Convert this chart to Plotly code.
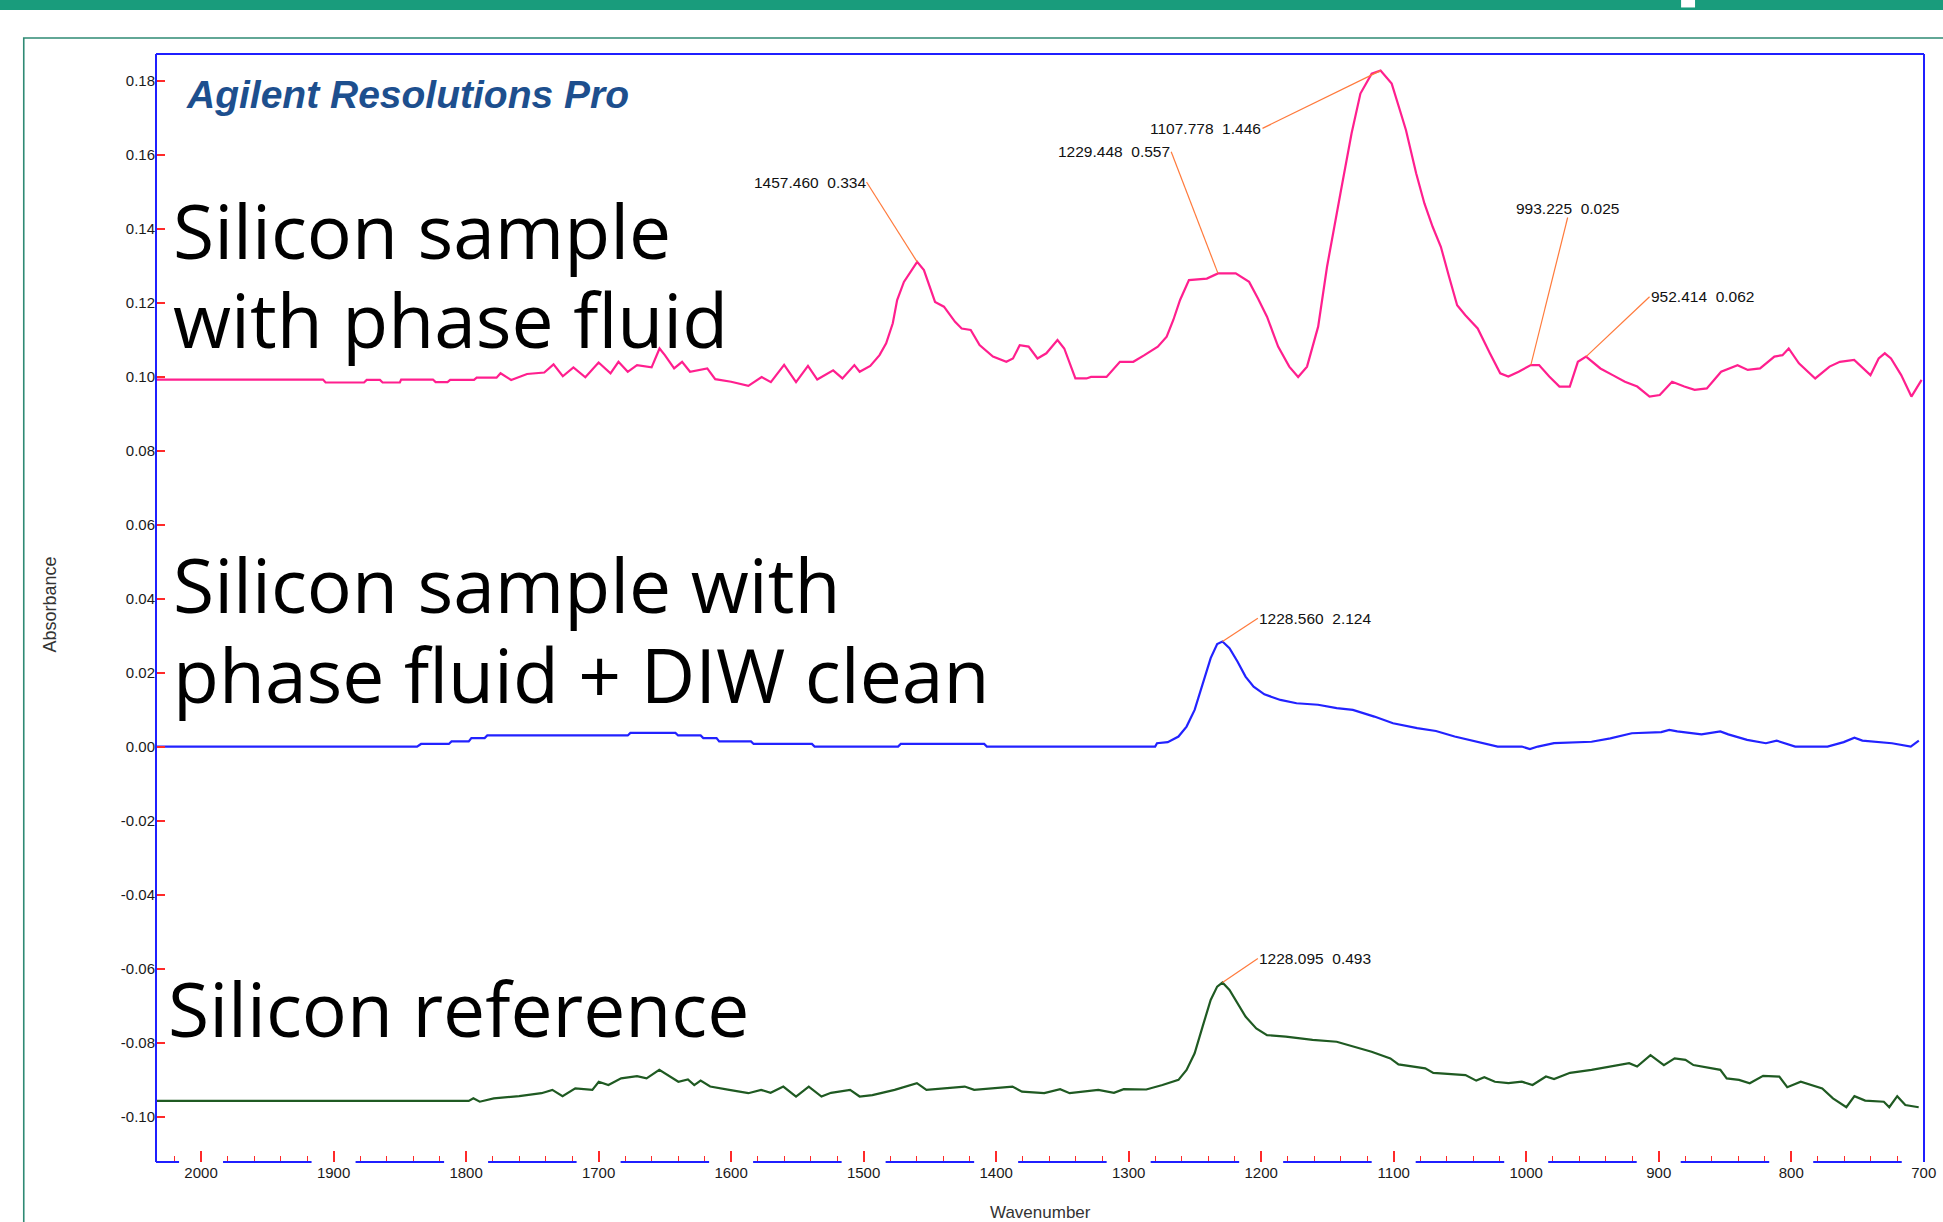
import plotly.graph_objects as go

# ---------------- data ----------------
pink_wn = [2034, 1908, 1906, 1877, 1875, 1865, 1863, 1850, 1849, 1825, 1823, 1814, 1812, 1794,
           1792, 1777, 1774, 1766, 1754, 1741, 1734, 1727, 1719, 1710, 1700, 1691, 1685, 1678,
           1671, 1660, 1654, 1650, 1643, 1637, 1631, 1618, 1612, 1600, 1587, 1577, 1570, 1560,
           1551, 1542, 1535, 1523, 1516, 1507, 1503, 1495, 1488, 1483, 1478, 1474.7, 1469.6,
           1459.6, 1454.5, 1446.1, 1439.4, 1431, 1426, 1419.2, 1412.5, 1402.4, 1392.3, 1387.3,
           1382.2, 1375.5, 1368.8, 1362.1, 1353.7, 1348.6, 1340.2, 1331.8, 1328.4, 1316.7,
           1306.6, 1296.5, 1288.1, 1278, 1271.3, 1266.3, 1261.2, 1254.5, 1241.0, 1232.6, 1219.2,
           1209.1, 1202.4, 1195.6, 1187.2, 1178.8, 1172.1, 1165.4, 1157, 1150.3, 1140.2, 1131.8,
           1125.1, 1116.6, 1109.9, 1101.5, 1095.3, 1090.7, 1083, 1076.8, 1070.6, 1064.4, 1058.2,
           1052.1, 1045.9, 1036.6, 1027.4, 1019.6, 1013.5, 1005.7, 996.5, 990.3, 982.6, 974.9,
           967.1, 961, 954.8, 944, 934.7, 925.5, 916.2, 906.9, 899.2, 889.9, 880.7, 872.9, 863.7,
           852.9, 840.5, 832.8, 823.5, 812.7, 806.6, 801.9, 794.2, 781.9, 771.1, 763.3, 752.5,
           740.2, 734, 729.4, 724.7, 717, 709.3, 701.6]
pink_abs = [0.0992, 0.0992, 0.0984, 0.0984, 0.0991, 0.0991, 0.0984, 0.0984, 0.0992, 0.0992, 0.0985,
            0.0985, 0.0991, 0.0991, 0.0997, 0.0997, 0.1009, 0.0991, 0.1007, 0.1011, 0.1033, 0.1001,
            0.1025, 0.0998, 0.1038, 0.1009, 0.1040, 0.1013, 0.1031, 0.1025, 0.1076, 0.1058, 0.1022,
            0.1040, 0.1013, 0.1022, 0.0993, 0.0986, 0.0975, 0.0999, 0.0985, 0.1032, 0.0985, 0.1029,
            0.0992, 0.1017, 0.0995, 0.1031, 0.1013, 0.1029, 0.1058, 0.1090, 0.1144, 0.1207, 0.1256,
            0.1310, 0.1288, 0.1202, 0.1189, 0.1148, 0.1130, 0.1126, 0.1085, 0.1054, 0.1040, 0.1049,
            0.1085, 0.1081, 0.1049, 0.1063, 0.1099, 0.1076, 0.0995, 0.0995, 0.0999, 0.0999, 0.1040,
            0.1040, 0.1058, 0.1081, 0.1108, 0.1153, 0.1207, 0.1261, 0.1265, 0.1279, 0.1279, 0.1256,
            0.1211, 0.1162, 0.1081, 0.1027, 0.0999, 0.1027, 0.1135, 0.1297, 0.1495, 0.1657, 0.1765,
            0.1819, 0.1827, 0.1792, 0.1720, 0.1666, 0.1549, 0.1468, 0.1405, 0.1351, 0.1270, 0.1193,
            0.1166, 0.1130, 0.1063, 0.1009, 0.1000, 0.1013, 0.1031, 0.1031, 0.1000, 0.0973, 0.0973,
            0.1040, 0.1054, 0.1022, 0.1004, 0.0986, 0.0973, 0.0946, 0.0950, 0.0986, 0.0973, 0.0964,
            0.0968, 0.1013, 0.1031, 0.1018, 0.1022, 0.1054, 0.1058, 0.1076, 0.1036, 0.0995, 0.1027,
            0.1040, 0.1045, 0.1004, 0.1049, 0.1063, 0.1049, 0.1004, 0.0946, 0.0991]

blue_wn = [2034, 1837, 1834, 1813, 1811, 1798, 1796, 1786, 1784, 1678, 1676, 1642, 1640, 1623,
           1621, 1611, 1609, 1585, 1583, 1539, 1537, 1474, 1472, 1409, 1407, 1280, 1278.6, 1270.5,
           1262.4, 1256.3, 1250.2, 1244.2, 1238.1, 1233.2, 1229.2, 1223.9, 1217.9, 1211.8, 1205.7,
           1197.6, 1185.5, 1173.3, 1157.1, 1143, 1130.8, 1114.6, 1100.5, 1082.3, 1068.1, 1054,
           1035.7, 1021.5, 1003.3, 997.2, 991.2, 979, 950.7, 936.5, 920.3, 898.1, 892, 886, 867.7,
           853.5, 847.5, 833.3, 819.1, 811, 797, 772.6, 760.4, 752.3, 746.3, 724, 709.8, 703.7]
blue_abs = [0.0, 0.0, 0.0007, 0.0007, 0.0014, 0.0014, 0.0023, 0.0023, 0.0030, 0.0030, 0.0037,
            0.0037, 0.0030, 0.0030, 0.0023, 0.0023, 0.0014, 0.0014, 0.0007, 0.0007, 0.0, 0.0,
            0.0007, 0.0007, 0.0, 0.0, 0.0009, 0.0012, 0.0027, 0.0054, 0.0099, 0.0167, 0.0239,
            0.0277, 0.0284, 0.0266, 0.0230, 0.0189, 0.0162, 0.0141, 0.0126, 0.0117, 0.0113, 0.0104,
            0.0099, 0.0081, 0.0063, 0.0050, 0.0042, 0.0027, 0.0012, 0.0, 0.0, -0.0007, 0.0, 0.0009,
            0.0013, 0.0022, 0.0036, 0.0039, 0.0045, 0.0041, 0.0033, 0.0041, 0.0033, 0.0018, 0.0009,
            0.0016, 0.0, 0.0, 0.0012, 0.0024, 0.0016, 0.0009, 0.0, 0.0016]

green_wn = [2034, 1798, 1794.5, 1789.7, 1779.1, 1759.9, 1743.1, 1734.9, 1727.2, 1717.6, 1704.7,
            1699.9, 1692.6, 1683, 1671, 1663.8, 1654.2, 1647, 1639.8, 1632.6, 1627.8, 1623,
            1615.8, 1601.4, 1587, 1577.4, 1570.2, 1560.6, 1551, 1541.4, 1531.8, 1524.6, 1510.2,
            1503, 1493.4, 1476.6, 1459.8, 1452.6, 1423.7, 1416.6, 1387.7, 1380.5, 1363.7, 1351.7,
            1344.5, 1322.9, 1311.1, 1303.7, 1286.7, 1274.5, 1262.4, 1256.3, 1250.2, 1244.2,
            1238.1, 1233.2, 1229.2, 1223.9, 1217.9, 1211.8, 1203.7, 1195.6, 1181.4, 1161.2, 1143,
            1130.8, 1116.7, 1102.5, 1096.4, 1076.2, 1070.1, 1045.8, 1037.7, 1031.6, 1023.6,
            1013.4, 1003.3, 995.2, 985.1, 979, 966.9, 950.7, 936.5, 922.3, 916.3, 906.2, 896.1,
            888, 879.8, 873.8, 853.5, 848.7, 839.4, 831.3, 821.2, 809, 803, 792.8, 776.6, 768.5,
            758.4, 752.3, 744.2, 730.1, 726, 720, 713.9, 703.8]
green_abs = [-0.0958, -0.0958, -0.0951, -0.0960, -0.0951, -0.0945, -0.0937, -0.0928, -0.0945,
             -0.0924, -0.0928, -0.0906, -0.0915, -0.0897, -0.0891, -0.0897, -0.0874, -0.0891,
             -0.0906, -0.0900, -0.0915, -0.0903, -0.0919, -0.0928, -0.0937, -0.0928, -0.0936,
             -0.0919, -0.0946, -0.0919, -0.0946, -0.0936, -0.0928, -0.0946, -0.0942, -0.0928,
             -0.0910, -0.0928, -0.0919, -0.0928, -0.0919, -0.0933, -0.0937, -0.0926, -0.0937,
             -0.0928, -0.0936, -0.0926, -0.0927, -0.0915, -0.0901, -0.0874, -0.0829, -0.0757,
             -0.0685, -0.0649, -0.0638, -0.0658, -0.0694, -0.0730, -0.0762, -0.0780, -0.0784,
             -0.0793, -0.0798, -0.0811, -0.0825, -0.0843, -0.0859, -0.0870, -0.0882, -0.0888,
             -0.0903, -0.0894, -0.0906, -0.0910, -0.0906, -0.0915, -0.0892, -0.0899, -0.0882,
             -0.0874, -0.0865, -0.0856, -0.0865, -0.0834, -0.0861, -0.0843, -0.0847, -0.0861,
             -0.0874, -0.0897, -0.0901, -0.0910, -0.0890, -0.0892, -0.0921, -0.0906, -0.0924,
             -0.0951, -0.0975, -0.0945, -0.0957, -0.0960, -0.0975, -0.0945, -0.0969, -0.0975]

x_tick_vals = [2000, 1900, 1800, 1700, 1600, 1500, 1400, 1300, 1200, 1100, 1000, 900, 800, 700]
x_tick_text = ["2000", "1900", "1800", "1700", "1600", "1500", "1400", "1300", "1200", "1100",
               "1000", "900", "800", "700"]
y_tick_vals = [0.18, 0.16, 0.14, 0.12, 0.10, 0.08, 0.06, 0.04, 0.02, 0.0, -0.02, -0.04, -0.06,
               -0.08, -0.10]
y_tick_text = ["0.18", "0.16", "0.14", "0.12", "0.10", "0.08", "0.06", "0.04", "0.02", "0.00",
               "-0.02", "-0.04", "-0.06", "-0.08", "-0.10"]

# peak labels: series, peak wavenumber, label anchor (wn, abs), anchors, text
peak_series = ["pink", "pink", "pink", "pink", "pink", "blue", "green"]
peak_wn = [1459.6, 1232.6, 1109.9, 996.5, 954.8, 1229.2, 1229.2]
label_wn = [1497.8, 1267.9, 1199.0, 968.7, 906.9, 1202.5, 1202.5]
label_abs = [0.1526, 0.1608, 0.1671, 0.1430, 0.1216, 0.0347, -0.0573]
label_xanchor = ["right", "right", "right", "center", "left", "left", "left"]
label_yanchor = ["middle", "middle", "middle", "bottom", "middle", "middle", "middle"]
label_text = ["1457.460  0.334", "1229.448  0.557", "1107.778  1.446", "993.225  0.025",
              "952.414  0.062", "1228.560  2.124", "1228.095  0.493"]

# big sample names: text lines, left wavenumber, vertical position (absorbance units)
name_text = ["Silicon sample", "with phase fluid", "Silicon sample with",
             "phase fluid + DIW clean", "Silicon reference"]
name_wn = [2022, 2022, 2022, 2022, 2026]
name_abs = [0.1395, 0.1157, 0.0439, 0.0196, -0.0707]

series = {
    "pink": (pink_wn, pink_abs, "#ff1f8e"),
    "blue": (blue_wn, blue_abs, "#2222ff"),
    "green": (green_wn, green_abs, "#1f5a22"),
}

X_RANGE = [2034, 699.8]
Y_RANGE = [-0.1123, 0.1872]
AXIS_BLUE = "#1f1fff"
TICK_RED = "#ff2a2a"
LABEL_GAP = 16.6  # half-width (in wavenumber units) of the axis-line gap under each tick label

fig = go.Figure()
for key in ["pink", "blue", "green"]:
    wn, ab, col = series[key]
    fig.add_trace(go.Scatter(x=wn, y=ab, mode="lines", line=dict(color=col, width=2.2),
                             showlegend=False, hoverinfo="skip"))

shapes = []
annotations = []
for s, pw, lw, la, xa, ya, txt in zip(peak_series, peak_wn, label_wn, label_abs,
                                      label_xanchor, label_yanchor, label_text):
    wn, ab, _ = series[s]
    i = min(range(len(wn)), key=lambda k: abs(wn[k] - pw))
    shapes.append(dict(type="line", xref="x", yref="y", x0=lw, y0=la, x1=wn[i], y1=ab[i],
                       line=dict(color="#ff7a3c", width=1.2), layer="above"))
    annotations.append(dict(xref="x", yref="y", x=lw, y=la, text=txt.replace(" ", "\u00a0"),
                            showarrow=False, xanchor=xa, yanchor=ya, borderpad=0,
                            font=dict(family="Liberation Sans", size=15.5, color="#111111")))

for t, w, a in zip(name_text, name_wn, name_abs):
    annotations.append(dict(xref="x", yref="y", x=w, y=a, text=t, showarrow=False,
                            xanchor="left", yanchor="middle", borderpad=0,
                            font=dict(family="Open Sans", size=75, color="#000000")))

# title and axis titles
annotations.append(dict(xref="paper", yref="paper", x=0.016, y=0.963, xanchor="left",
                        yanchor="middle", showarrow=False,
                        text="<b><i>Agilent Resolutions Pro</i></b>",
                        font=dict(family="Liberation Sans", size=39, color="#1d4f8e")))
annotations.append(dict(xref="paper", yref="paper", x=-0.060, y=0.503, textangle=-90,
                        showarrow=False, text="Absorbance", xanchor="center", yanchor="middle",
                        font=dict(family="Liberation Sans", size=18, color="#333333")))
annotations.append(dict(xref="paper", yref="paper", x=0.5005, y=-0.046, showarrow=False,
                        text="Wavenumber", xanchor="center", yanchor="middle",
                        font=dict(family="Liberation Sans", size=17, color="#333333")))

# plot frame: left/top/right full, bottom broken under each tick label
frame = dict(color=AXIS_BLUE, width=2)
shapes.append(dict(type="line", xref="paper", yref="paper", x0=0, x1=0, y0=0, y1=1, line=frame))
shapes.append(dict(type="line", xref="paper", yref="paper", x0=0, x1=1, y0=1, y1=1, line=frame))
shapes.append(dict(type="line", xref="paper", yref="paper", x0=1, x1=1, y0=0, y1=1, line=frame))
edges = [X_RANGE[0]] + x_tick_vals
for a, b in zip(edges[:-1], edges[1:]):
    x0 = a if a == X_RANGE[0] else a - LABEL_GAP
    x1 = b + LABEL_GAP
    shapes.append(dict(type="line", xref="x", yref="paper", x0=x0, x1=x1, y0=0, y1=0,
                       line=frame))

# page decorations (teal header bar and outer frame)
shapes.append(dict(type="rect", xref="paper", yref="paper", x0=-0.2, x1=1.2, y0=1.0397, y1=1.06,
                   line=dict(width=0), fillcolor="#199c7c", layer="below"))
shapes.append(dict(type="rect", xref="paper", yref="paper", x0=0.8626, x1=0.8705, y0=1.042,
                   y1=1.06, line=dict(width=0), fillcolor="#ffffff", layer="below"))
shapes.append(dict(type="rect", xref="paper", yref="paper", x0=-0.0748, x1=1.03, y0=-0.08,
                   y1=1.0144, line=dict(color="#2f8a74", width=1.6), fillcolor="rgba(0,0,0,0)",
                   layer="below"))

fig.update_layout(
    width=1943, height=1222,
    margin=dict(l=156, r=19, t=54, b=60, autoexpand=False),
    paper_bgcolor="white", plot_bgcolor="white",
    shapes=shapes, annotations=annotations,
    showlegend=False,
    xaxis=dict(range=X_RANGE, showgrid=False, zeroline=False, showline=False, automargin=False,
               tickmode="array", tickvals=x_tick_vals,
               ticktext=x_tick_text, ticks="inside", ticklen=11, tickwidth=1.5,
               tickcolor=TICK_RED,
               tickfont=dict(family="Liberation Sans", size=15, color="#1a1a1a"),
               minor=dict(dtick=20, tick0=2000, ticks="inside", ticklen=6, tickwidth=1.2,
                          tickcolor=TICK_RED, showgrid=False)),
    yaxis=dict(range=Y_RANGE, showgrid=False, zeroline=False, showline=False, automargin=False,
               tickmode="array", tickvals=y_tick_vals,
               ticktext=y_tick_text, ticks="inside", ticklen=9, tickwidth=2,
               tickcolor=TICK_RED,
               tickfont=dict(family="Liberation Sans", size=15, color="#1a1a1a")),
)

fig.write_html("out.html", config={"displayModeBar": False},
               post_script="document.body.style.margin='0';")
